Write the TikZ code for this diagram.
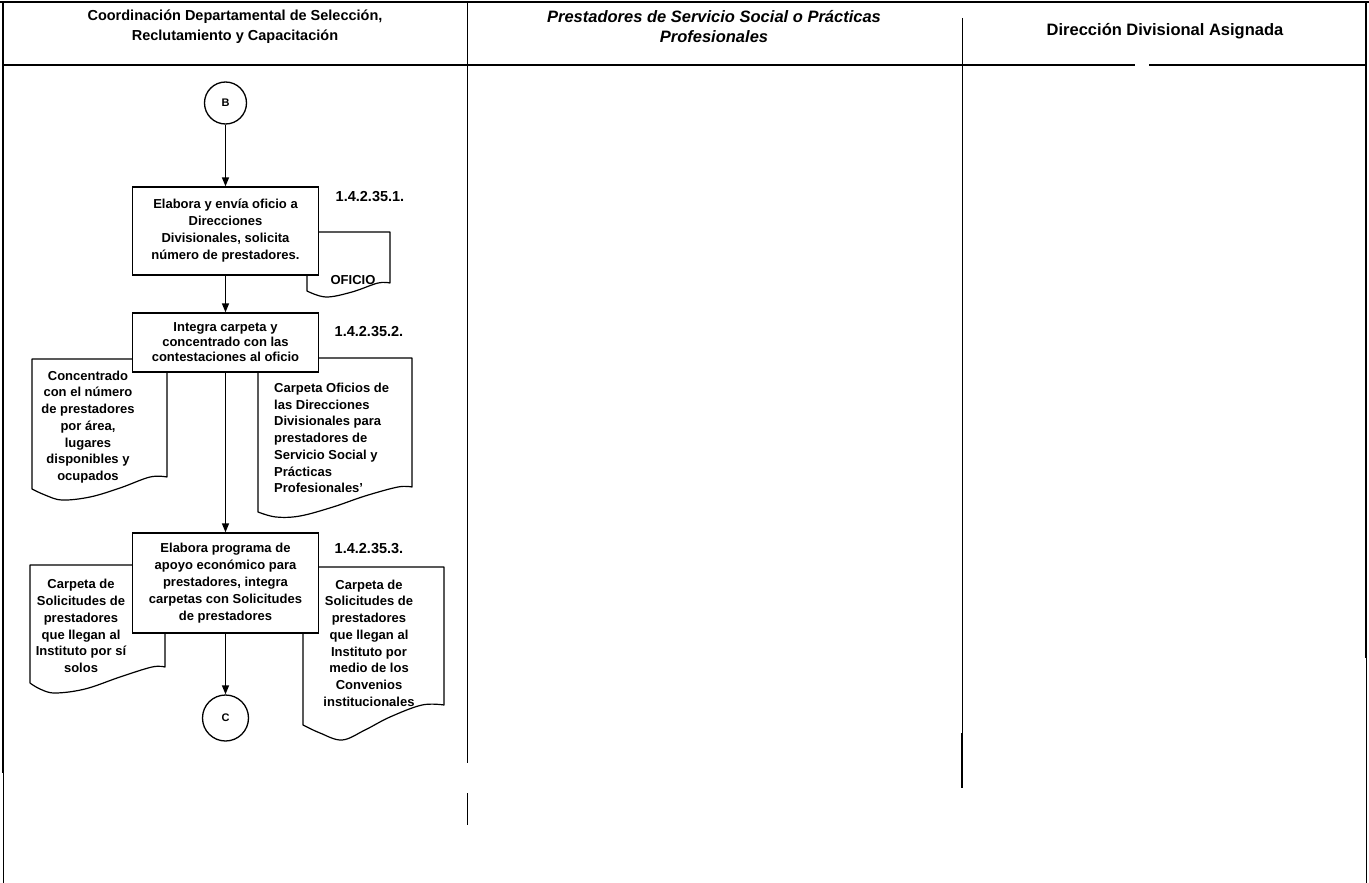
\documentclass[tikz,border=0pt]{standalone}
\usepackage{fontspec}
\setmainfont{Liberation Sans}
\usetikzlibrary{arrows.meta}
\begin{document}
\begin{tikzpicture}[x=1pt,y=-1pt,
  hdr/.style={align=center, inner sep=0pt, font=\fontsize{14.5}{20}\selectfont\bfseries},
  procbox/.style={draw, line width=1.3pt, fill=white, minimum width=186pt, align=center,
    inner sep=0pt, font=\fontsize{13}{17}\selectfont\bfseries},
  connector/.style={draw, circle, line width=1.3pt, fill=white, inner sep=0pt,
    font=\fontsize{11}{12}\selectfont\bfseries},
  docshape/.style={draw, line width=1.2pt, fill=white, line join=round},
  doctext/.style={align=center, inner sep=0pt, font=\fontsize{13}{16.7}\selectfont\bfseries},
  steplabel/.style={inner sep=0pt, font=\fontsize{14.5}{16}\selectfont\bfseries},
  flow/.style={line width=1.3pt, -{Triangle[length=9pt,width=7pt]}}
]
\useasboundingbox (0,0) rectangle (1369,883);

% swimlane frame
\draw[line width=2pt] (0,2) -- (1369,2);
\draw[line width=2.5pt] (3,2) -- (3,773);
\draw[line width=1pt] (3,773) -- (3,883);
\draw[line width=2.5pt] (1366,2) -- (1366,658);
\draw[line width=1pt] (1366,658) -- (1366,883);
\draw[line width=1.5pt] (3,65) -- (1135,65);
\draw[line width=1.5pt] (1149,65) -- (1366,65);
\draw[line width=1pt] (467,2) -- (467,763);
\draw[line width=1pt] (467,793) -- (467,825);
\draw[line width=1pt] (962,18) -- (962,733);
\draw[line width=2.2pt] (962,733) -- (962,788);

% lane titles
\node[hdr] (h1) at (235,27) {Coordinación Departamental de Selección,\\Reclutamiento y Capacitación};
\node[hdr, font=\fontsize{16.5}{20}\selectfont\bfseries\itshape] (h2) at (714,27) {Prestadores de Servicio Social o Prácticas\\Profesionales};
\node[hdr, font=\fontsize{16.5}{20}\selectfont\bfseries] (h3) at (1165,31) {Dirección Divisional Asignada};

% documents (drawn first, the process boxes cover their hidden corners)
\draw[docshape] (307,232) -- (390,232) -- (390,283)
  -- plot[smooth, tension=0.6] coordinates {(390,283) (378,283) (352,292) (326,297) (307,291)} -- cycle;
\node[doctext] (d1) at (353,280) {OFICIO};

\draw[docshape] (32,359) -- (167,359) -- (167,477)
  -- plot[smooth, tension=0.6] coordinates {(167,477) (150,477) (120,488) (90,497) (62,500) (45,495) (32,489)} -- cycle;
\node[doctext] (d2) at (88,427) {Concentrado\\con el número\\de prestadores\\por área,\\lugares\\disponibles y\\ocupados};

\draw[docshape] (258,358) -- (412,358) -- (412,487)
  -- plot[smooth, tension=0.6] coordinates {(412,487) (398,487) (365,496) (333,507) (300,516) (276,517) (258,512)} -- cycle;
\node[doctext, align=left, anchor=west] (d3) at (274,438) {Carpeta Oficios de\\las Direcciones\\Divisionales para\\prestadores de\\Servicio Social y\\Prácticas\\Profesionales'};

\draw[docshape] (30,565) -- (165,565) -- (165,667)
  -- plot[smooth, tension=0.6] coordinates {(165,667) (152,667) (120,677) (85,689) (55,693) (40,689) (30,683)} -- cycle;
\node[doctext] (d4) at (81,626) {Carpeta de\\Solicitudes de\\prestadores\\que llegan al\\Instituto por sí\\solos};

\draw[docshape] (303,567) -- (444,567) -- (444,705)
  -- plot[smooth, tension=0.6] coordinates {(444,705) (422,705) (390,717) (365,730) (342,740) (320,733) (303,725)} -- cycle;
\node[doctext] (d5) at (369,643) {Carpeta de\\Solicitudes de\\prestadores\\que llegan al\\Instituto por\\medio de los\\Convenios\\institucionales};

% process steps
\node[connector, minimum size=42pt] (B) at (225.5,103) {B};
\node[procbox, minimum height=88pt] (b1) at (225.5,231)
  {Elabora y envía oficio a\\Direcciones\\Divisionales, solicita\\número de prestadores.};
\node[procbox, minimum height=59pt, font=\fontsize{13}{15}\selectfont\bfseries] (b2) at (225.5,342.5)
  {Integra carpeta y\\concentrado con las\\contestaciones al oficio};
\node[procbox, minimum height=100pt] (b3) at (225.5,583)
  {Elabora programa de\\apoyo económico para\\prestadores, integra\\carpetas con Solicitudes\\de prestadores};
\node[connector, minimum size=46pt] (C) at (225.5,718) {C};

\node[steplabel] (n1) at (370,197) {1.4.2.35.1.};
\node[steplabel] (n2) at (369,332) {1.4.2.35.2.};
\node[steplabel] (n3) at (369,549) {1.4.2.35.3.};

% flow
\draw[flow] (B) -- (b1);
\draw[flow] (b1) -- (b2);
\draw[flow] (b2) -- (b3);
\draw[flow] (b3) -- (C);
\end{tikzpicture}
\end{document}
